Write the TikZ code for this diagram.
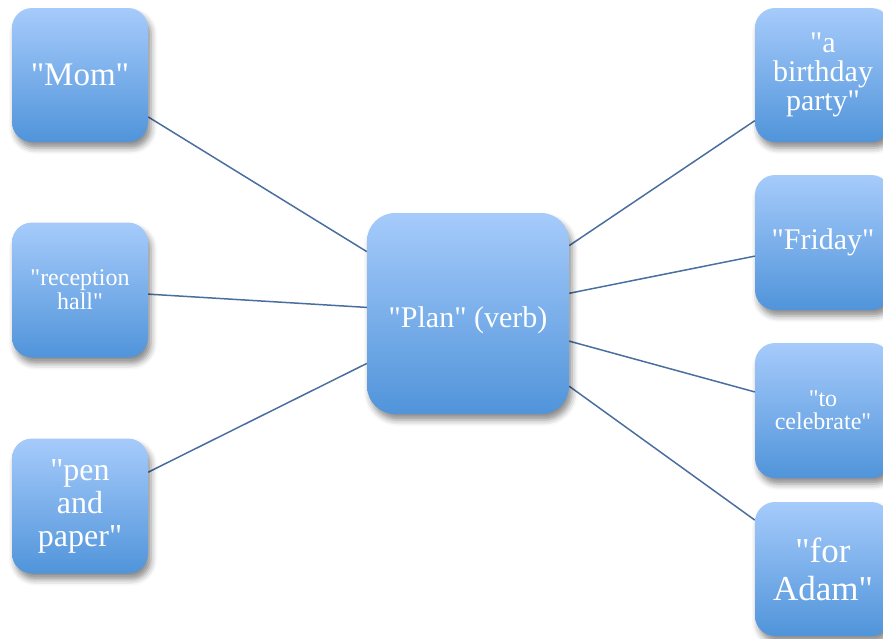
\documentclass[tikz,border=0pt]{standalone}
\usepackage{fontspec}
\setmainfont{Liberation Serif}[Ligatures=TeXOff]
\usetikzlibrary{shadows.blur,backgrounds}
\definecolor{boxtop}{RGB}{166,203,251}
\definecolor{boxbot}{RGB}{80,148,218}
\definecolor{linkcol}{RGB}{74,111,158}
\tikzset{
  box/.style={rectangle, rounded corners=20pt, top color=boxtop, bottom color=boxbot,
    draw=none, text=white, align=center, inner sep=0pt,
    minimum width=136pt, minimum height=135pt,
    blur shadow={shadow xshift=3pt, shadow yshift=-6pt, shadow blur radius=6pt, shadow opacity=45}},
  bigbox/.style={box, rounded corners=28pt, minimum width=202pt, minimum height=201pt},
  link/.style={draw=linkcol, line width=1.5pt},
  fs/.style 2 args={font=\fontsize{#1}{#2}\selectfont}
}
\begin{document}
\begin{tikzpicture}[x=1pt,y=-1pt]
\useasboundingbox (0,0) rectangle (883,638);
\clip (0,0) rectangle (883,638);
\node[bigbox, fs={30}{35}] (plan) at (468,313.5) {\raisebox{-14pt}[0pt][0pt]{"Plan" (verb)}};
\node[box, fs={33}{38}, minimum height=134pt] (mom) at (80,75) {"Mom"};
\node[box, fs={24}{24}] (rec) at (80,290) {"reception\\hall"};
\node[box, fs={32}{33}] (pen) at (80,506) {"pen\\and\\paper"};
\node[box, fs={30}{29}, minimum height=134pt] (bday) at (823,75) {"a\\birthday\\party"};
\node[box, fs={30}{30}] (fri) at (823,242.5) {"Friday"};
\node[box, fs={24}{23}] (cel) at (823,410.5) {"to\\celebrate"};
\node[box, fs={35}{38}, minimum height=134pt] (adam) at (823,569) {"for\\Adam"};
\begin{scope}[on background layer]
\draw[link] (mom) -- (plan);
\draw[link] (rec) -- (plan);
\draw[link] (pen) -- (plan);
\draw[link] (plan) -- (bday);
\draw[link] (plan) -- (fri);
\draw[link] (plan) -- (cel);
\draw[link] (plan) -- (adam);
\end{scope}
\end{tikzpicture}
\end{document}
